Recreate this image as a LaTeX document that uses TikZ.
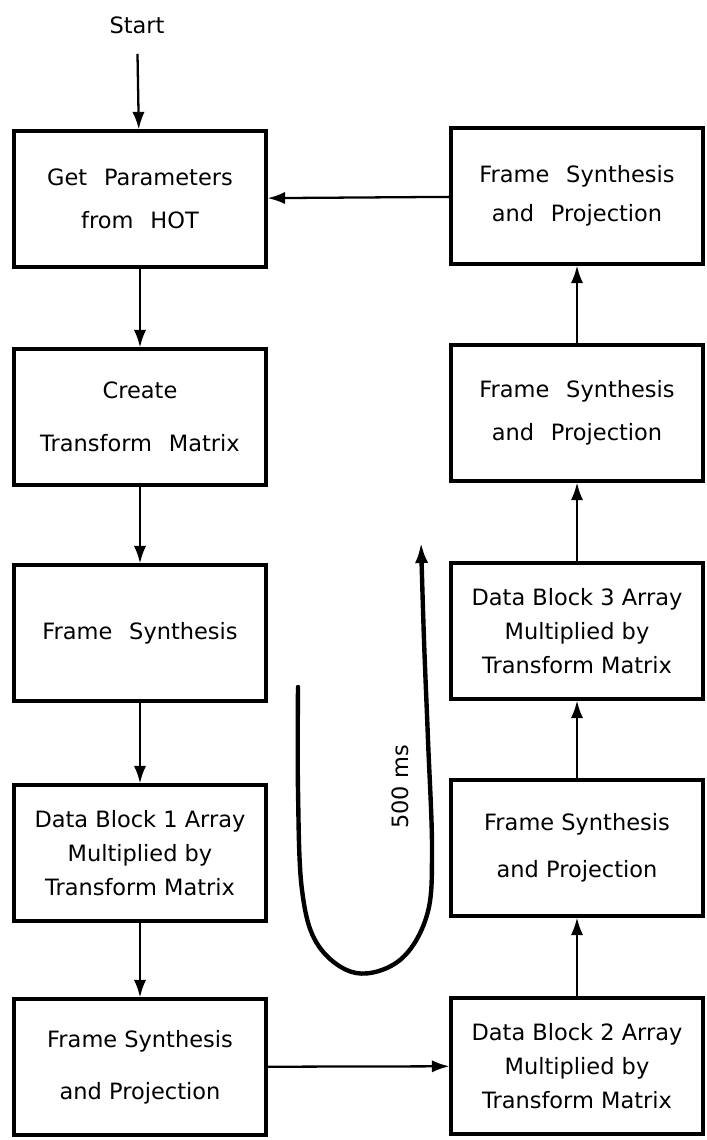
\documentclass[tikz,border=0pt]{standalone}
\usepackage{fontspec}
\setmainfont{DejaVu Sans}
\usetikzlibrary{arrows.meta}

\begin{document}
\begin{tikzpicture}[x=0.02cm, y=-0.02cm,
    block/.style={draw, line width=1.8pt, minimum width=5.04cm, minimum height=2.72cm,
        align=center, inner sep=0pt, font=\fontsize{12.8}{19.5}\selectfont},
    label/.style={font=\fontsize{12.8}{15}\selectfont},
    flow/.style={line width=1.3pt, -{Latex[length=10pt,width=7pt]}},
    looparrow/.style={line width=2.5pt, line cap=round, -{Latex[length=12pt,width=7.5pt]}}]
    % Spaltenmitten und breiter Wortabstand
    \def\colL{140}
    \def\colR{577}
    \def\gap{\hspace{0.75em}}

    \useasboundingbox (0,0) rectangle (707,1140);

    % ==========================================
    % LINKE SPALTE
    % ==========================================
    \node[label] (start) at (137,25) {Start};
    \node[block] (params) at (\colL,199) {Get\gap Parameters\\[5pt]from\gap HOT};
    \node[block] (create) at (\colL,417) {Create\\[11pt]Transform\gap Matrix};
    \node[block] (synth) at (\colL,633) {Frame\gap Synthesis};
    \node[block] (block1) at (\colL,853) {Data Block 1 Array\\Multiplied by\\Transform Matrix};
    \node[block] (proj1) at (\colL,1067) {Frame Synthesis\\[10pt]and Projection};

    % ==========================================
    % RECHTE SPALTE
    % ==========================================
    \node[block] (block2) at (\colR,1066) {Data Block 2 Array\\Multiplied by\\Transform Matrix};
    \node[block] (proj2) at (\colR,848) {Frame Synthesis\\[7pt]and Projection};
    \node[block] (block3) at (\colR,631) {Data Block 3 Array\\Multiplied by\\Transform Matrix};
    \node[block] (proj3) at (\colR,413) {Frame\gap Synthesis\\[5pt]and\gap Projection};
    \node[block] (proj4) at (\colR,196) {Frame\gap Synthesis\\[3pt]and\gap Projection};

    % Verbindungen
    \draw[flow, shorten <=8pt] (start) -- (params);
    \draw[flow] (params) -- (create);
    \draw[flow] (create) -- (synth);
    \draw[flow] (synth) -- (block1);
    \draw[flow] (block1) -- (proj1);
    \draw[flow] (proj1) -- (block2);
    \draw[flow] (block2) -- (proj2);
    \draw[flow] (proj2) -- (block3);
    \draw[flow] (block3) -- (proj3);
    \draw[flow] (proj3) -- (proj4);
    \draw[flow] (proj4) -- (params);

    % ==========================================
    % ZEITSCHLEIFE (500 ms)
    % ==========================================
    \draw[looparrow] plot[smooth, tension=0.6] coordinates
        {(298,687) (298,790) (302,890) (318,945) (356,973) (400,960) (427,915) (432,850) (428,740) (424,640) (421,542)};
    \node[label, rotate=90] (period) at (400,787) {500 ms};
\end{tikzpicture}
\end{document}
